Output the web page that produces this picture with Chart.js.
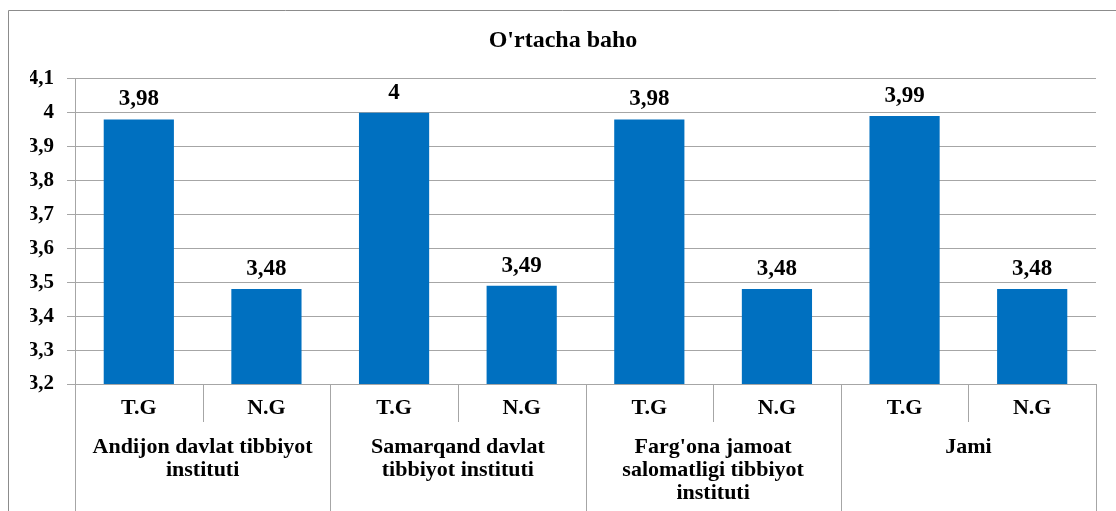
<!DOCTYPE html>
<html>
<head>
<meta charset="utf-8">
<script src="https://cdn.jsdelivr.net/npm/chart.js@4.4.1/dist/chart.umd.min.js"></script>
<style>
    html, body { margin: 0; padding: 0; background: #fff; }
    #wrap { width: 1116px; height: 511px; }
</style>
</head>
<body>
<div id="wrap"><canvas id="bar-chart"></canvas></div>
<script>
// Chart data
const subLabels = ['T.G', 'N.G', 'T.G', 'N.G', 'T.G', 'N.G', 'T.G', 'N.G'];
const groupLabels = [
    ['Andijon davlat tibbiyot', 'instituti'],
    ['Samarqand davlat', 'tibbiyot instituti'],
    ["Farg'ona jamoat", 'salomatligi tibbiyot', 'instituti'],
    ['Jami']
];
const values = [3.98, 3.48, 4, 3.49, 3.98, 3.48, 3.99, 3.48];
const yMin = 3.2;
const yMax = 4.1;
const yStep = 0.1;

const serif = "'Liberation Serif', 'Times New Roman', serif";
const gridColor = '#a6a6a6';

// decimal comma, as in the original
function fmt(v) {
    return String(Math.round(v * 100) / 100).replace('.', ',');
}

// Outer frame of the chart object (runs off the right and bottom edges)
const framePlugin = {
    id: 'frame',
    beforeDraw: function(chart) {
        const ctx = chart.ctx;
        ctx.save();
        ctx.strokeStyle = '#8c8c8c';
        ctx.lineWidth = 1;
        ctx.beginPath();
        ctx.moveTo(8.5, chart.height);
        ctx.lineTo(8.5, 10.5);
        ctx.lineTo(chart.width, 10.5);
        ctx.stroke();
        ctx.restore();
    }
};

// Value labels above each bar
const barLabelPlugin = {
    id: 'barLabels',
    afterDatasetsDraw: function(chart) {
        const ctx = chart.ctx;
        const meta = chart.getDatasetMeta(0);
        ctx.save();
        ctx.font = 'bold 23px ' + serif;
        ctx.fillStyle = '#000';
        ctx.textAlign = 'center';
        ctx.textBaseline = 'alphabetic';
        meta.data.forEach((bar, i) => {
            ctx.fillText(fmt(values[i]), bar.x, bar.y - 14);
        });
        ctx.restore();
    }
};

// Second level of the category axis: separators and institute names
const groupAxisPlugin = {
    id: 'groupAxis',
    afterDraw: function(chart) {
        const ctx = chart.ctx;
        const x = chart.scales.x;
        const bottom = chart.chartArea.bottom;
        ctx.save();
        ctx.strokeStyle = gridColor;
        ctx.lineWidth = 1;
        for (let i = 0; i <= subLabels.length; i++) {
            const px = Math.round(x.getPixelForValue(i - 0.5)) + 0.5;
            const end = (i % 2 === 0) ? chart.height : bottom + 38;
            ctx.beginPath();
            ctx.moveTo(px, bottom);
            ctx.lineTo(px, end);
            ctx.stroke();
        }
        ctx.font = 'bold 22px ' + serif;
        ctx.fillStyle = '#000';
        ctx.textAlign = 'center';
        ctx.textBaseline = 'middle';
        groupLabels.forEach((lines, g) => {
            const cx = x.getPixelForValue(g * 2 + 0.5);
            lines.forEach((line, j) => {
                ctx.fillText(line, cx, bottom + 63 + j * 23);
            });
        });
        ctx.restore();
    }
};

var ctx = document.getElementById('bar-chart').getContext('2d');

new Chart(ctx, {
    type: 'bar',
    data: {
        labels: subLabels,
        datasets: [{
            data: values,
            backgroundColor: '#0070c0',
            borderWidth: 0,
            barPercentage: 0.55,
            categoryPercentage: 1
        }]
    },
    options: {
        responsive: true,
        maintainAspectRatio: false,
        animation: false,
        layout: { padding: { left: 30, right: 20, top: 0, bottom: 87 } },
        scales: {
            x: {
                grid: { display: false, drawTicks: false },
                border: { display: false },
                ticks: {
                    font: { size: 22, weight: 'bold', family: serif },
                    color: '#000',
                    padding: 11,
                    maxRotation: 0,
                    autoSkip: false
                },
                afterFit: function(scale) { scale.height = 40; }
            },
            y: {
                min: yMin,
                max: yMax,
                grid: { color: gridColor, tickLength: 8 },
                border: { display: true, color: gridColor },
                ticks: {
                    stepSize: yStep,
                    padding: 13,
                    font: { size: 21, weight: 'bold', family: serif },
                    color: '#000',
                    callback: function(v) { return fmt(v); }
                },
                afterFit: function(scale) { scale.width = 45; }
            }
        },
        plugins: {
            legend: { display: false },
            tooltip: { enabled: false },
            title: {
                display: true,
                text: "O'rtacha baho",
                color: '#000',
                font: { size: 24, weight: 'bold', family: serif },
                padding: { top: 26, bottom: 24 }
            }
        }
    },
    plugins: [framePlugin, barLabelPlugin, groupAxisPlugin]
});
</script>
</body>
</html>
